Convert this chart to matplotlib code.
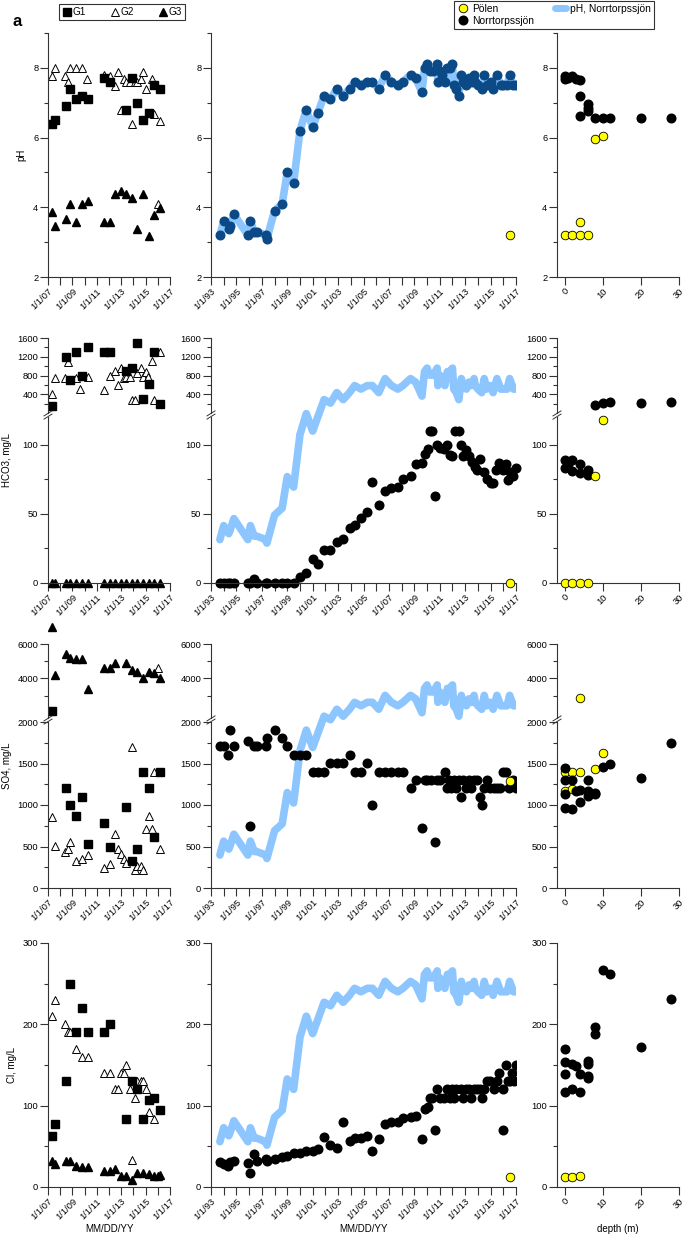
import matplotlib
matplotlib.use("Agg")
import matplotlib.pyplot as plt
from matplotlib.lines import Line2D
from matplotlib.ticker import FixedLocator

plt.rcParams['font.family'] = ['Liberation Sans', 'DejaVu Sans']

# ---------------- data ----------------
# Norrtorpssjön time series (pH)
nt_year = [1993.7, 1994.0, 1994.4, 1994.5, 1994.8, 1995.9, 1996.1, 1996.4, 1996.6, 1997.3,
           1997.4, 1998.0, 1998.6, 1999.0, 1999.5, 2000.0, 2000.5, 2001.0, 2001.4, 2001.9,
           2002.4, 2002.9, 2003.4, 2003.9, 2004.3, 2004.8, 2005.3, 2005.7, 2006.2, 2006.7,
           2007.2, 2007.7, 2008.1, 2008.7, 2009.1, 2009.6, 2009.8, 2010.0, 2010.2, 2010.5,
           2010.8, 2010.85, 2011.0, 2011.2, 2011.4, 2011.6, 2011.8, 2012.0, 2012.1, 2012.3,
           2012.5, 2012.7, 2012.8, 2013.1, 2013.3, 2013.5, 2013.7, 2013.8, 2014.0, 2014.3,
           2014.5, 2014.7, 2015.0, 2015.2, 2015.5, 2015.8, 2016.0, 2016.3, 2016.5, 2016.8, 2017.0]
nt_ph = [3.2, 3.6, 3.37, 3.46, 3.8, 3.2, 3.6, 3.3, 3.3, 3.2,
         3.1, 3.9, 4.1, 5.0, 4.7, 6.2, 6.8, 6.3, 6.7, 7.2,
         7.1, 7.4, 7.2, 7.4, 7.6, 7.5, 7.6, 7.6, 7.4, 7.8,
         7.6, 7.5, 7.6, 7.8, 7.7, 7.3, 8.0, 8.1, 7.9, 7.9,
         8.1, 7.6, 7.9, 7.8, 7.6, 8.0, 8.0, 8.1, 7.5, 7.4,
         7.2, 7.8, 7.6, 7.5, 7.7, 7.6, 7.8, 7.6, 7.5, 7.4,
         7.8, 7.5, 7.6, 7.4, 7.8, 7.5, 7.5, 7.5, 7.8, 7.5, 7.5]

nt_hco3_year = [1993.7, 1994.0, 1994.3, 1994.5, 1994.8, 1995.9, 1996.1, 1996.4, 1996.6, 1997.3,
                1997.4, 1998.0, 1998.6, 1999.0, 1999.5, 2000.0, 2000.5, 2001.0, 2001.4, 2001.9,
                2002.4, 2002.9, 2003.4, 2003.9, 2004.3, 2004.8, 2005.3, 2005.7, 2006.2, 2006.7,
                2007.2, 2007.7, 2008.1, 2008.7, 2009.1, 2009.6, 2009.8, 2010.1, 2010.2, 2010.4,
                2010.6, 2010.8, 2011.0, 2011.3, 2011.6, 2011.8, 2012.0, 2012.2, 2012.5, 2012.7,
                2012.8, 2013.1, 2013.3, 2013.5, 2013.8, 2013.9, 2014.2, 2014.5, 2014.7, 2015.0,
                2015.2, 2015.4, 2015.7, 2016.0, 2016.2, 2016.4, 2016.5, 2016.8, 2017.0]
nt_hco3 = [0, 0, 0, 0, 0, 0, 0, 2.6, 0, 0,
           0, 0, 0, 0, 0, 4.6, 7.2, 17.5, 13.7, 24,
           24, 30, 32, 39.7, 41.6, 47, 51, 73, 56.7, 66.6,
           68.8, 69.7, 75.5, 77.2, 85.8, 86.8, 93.5, 97.1, 109.6, 109.6,
           62.7, 100, 97.8, 97, 100, 92.3, 92, 109.6, 109.6, 100,
           91.8, 96.4, 92, 87.5, 83.9, 82, 90, 80, 75.5, 72.6,
           72.6, 81.5, 87, 81.5, 85.8, 74.3, 80, 77.4, 83.2]

nt_so4_year = [1993.7, 1994.0, 1994.3, 1994.5, 1994.8, 1995.9, 1996.1, 1996.4, 1996.6, 1997.3,
               1997.4, 1998.0, 1998.6, 1999.0, 1999.5, 2000.0, 2000.5, 2001.0, 2001.4, 2001.9,
               2002.4, 2002.9, 2003.4, 2003.9, 2004.3, 2004.8, 2005.3, 2005.7, 2006.2, 2006.7,
               2007.2, 2007.7, 2008.1, 2008.7, 2009.1, 2009.6, 2009.8, 2010.0, 2010.3, 2010.6,
               2010.8, 2011.0, 2011.4, 2011.6, 2011.7, 2011.9, 2012.1, 2012.3, 2012.5, 2012.7,
               2012.8, 2013.1, 2013.3, 2013.45, 2013.66, 2013.92, 2014.13, 2014.31, 2014.5, 2014.71,
               2014.97, 2015.23, 2015.49, 2015.76, 2015.97, 2016.23, 2016.41, 2016.75, 2017.0]
nt_so4 = [1705, 1705, 1604, 1906, 1705, 1769, 742, 1705, 1705, 1705,
          1805, 1906, 1805, 1705, 1604, 1604, 1604, 1402, 1402, 1402,
          1503, 1503, 1503, 1604, 1402, 1402, 1503, 999, 1402, 1402,
          1402, 1402, 1402, 1201, 1302, 725, 1302, 1302, 1302, 560,
          1302, 1302, 1402, 1201, 1302, 1201, 1302, 1201, 1302, 1100,
          1302, 1201, 1302, 1201, 1302, 1302, 1100, 999, 1201, 1302,
          1201, 1201, 1201, 1201, 1402, 1402, 1201, 1302, 1201]

nt_cl_year = [1993.7, 1994.0, 1994.3, 1994.5, 1994.8, 1995.9, 1996.1, 1996.4, 1996.6, 1997.3,
              1997.4, 1998.0, 1998.6, 1999.0, 1999.5, 2000.0, 2000.5, 2001.0, 2001.4, 2001.9,
              2002.4, 2002.9, 2003.4, 2003.9, 2004.3, 2004.8, 2005.3, 2005.7, 2006.2, 2006.7,
              2007.2, 2007.7, 2008.1, 2008.7, 2009.1, 2009.6, 2009.8, 2010.1, 2010.2, 2010.4,
              2010.6, 2010.8, 2011.0, 2011.3, 2011.6, 2011.8, 2012.0, 2012.1, 2012.3, 2012.7,
              2012.8, 2013.1, 2013.3, 2013.45, 2013.66, 2013.92, 2014.13, 2014.31, 2014.5, 2014.71,
              2014.97, 2015.23, 2015.49, 2015.7, 2015.97, 2015.97, 2016.18, 2016.36, 2016.54, 2016.67,
              2016.88, 2017.0]
nt_cl = [30.3, 27.8, 25.8, 30.3, 32.3, 29, 16.8, 40.5, 32.3, 34.8,
         32.3, 34, 37.2, 38, 41.3, 41.3, 43.8, 43.8, 47, 61.8,
         51.6, 47.5, 80.2, 56.5, 59.8, 59.8, 63, 43.8, 59, 77,
         80.2, 80.2, 84.3, 85.5, 87.6, 59, 95.8, 98.6, 110, 110,
         70, 120, 110, 110, 120, 110, 120, 110, 120, 120,
         110, 120, 120, 110, 120, 120, 120, 110, 120, 130,
         130, 120, 130, 140, 120, 70, 150, 130, 130, 140,
         130, 150]

# Pölen time-series sample
pol_year = [2016.55]
pol_ph = [3.2]
pol_hco3 = [0]
pol_so4 = [1286]
pol_cl = [12]

# Groundwater wells G1, G2, G3
g1_ph_year = [2007.33, 2007.6, 2008.45, 2008.8, 2009.3, 2009.8, 2010.3, 2011.6, 2012.1, 2013.4,
              2013.9, 2014.3, 2014.8, 2015.3, 2015.7, 2016.2]
g1_ph = [6.4, 6.5, 6.9, 7.4, 7.1, 7.2, 7.1, 7.7, 7.6, 6.8, 7.7, 7.0, 6.5, 6.7, 7.5, 7.4]
g2_ph_year = [2007.33, 2007.6, 2008.4, 2008.6, 2008.8, 2009.3, 2009.8, 2010.2, 2011.6, 2012.1,
              2012.5, 2012.75, 2013.0, 2013.2, 2013.4, 2013.7, 2013.9, 2014.1, 2014.3, 2014.6,
              2014.8, 2015.0, 2015.5, 2015.7, 2016.0, 2016.2]
g2_ph = [7.77, 8.0, 7.77, 7.6, 8.0, 8.0, 8.0, 7.68, 7.8, 7.77,
         7.48, 7.89, 6.78, 7.68, 7.58, 7.58, 6.4, 7.58, 7.58, 7.68,
         7.89, 7.4, 7.68, 6.68, 4.08, 6.48]
g3_ph_year = [2007.33, 2007.6, 2008.45, 2008.8, 2009.3, 2009.8, 2010.3, 2011.6, 2012.1, 2012.5,
              2013.0, 2013.4, 2013.9, 2014.3, 2014.8, 2015.3, 2015.7, 2016.2]
g3_ph = [3.87, 3.46, 3.66, 4.08, 3.57, 4.08, 4.17, 3.57, 3.57, 4.37,
         4.48, 4.37, 4.28, 3.37, 4.37, 3.17, 3.77, 3.97]

g1_hco3_year = [2007.33, 2008.45, 2008.8, 2009.3, 2009.8, 2010.3, 2011.6, 2012.1, 2013.4, 2013.9,
                2014.3, 2014.8, 2015.3, 2015.7, 2016.2]
g1_hco3 = [140, 1200, 700, 1300, 790, 1400, 1300, 1300, 900, 950, 1500, 290, 620, 1300, 200]
g2_hco3_year = [2007.33, 2007.6, 2008.4, 2008.6, 2009.3, 2009.6, 2009.8, 2010.3, 2011.6, 2012.1,
                2012.5, 2012.75, 2013.0, 2013.2, 2013.4, 2013.7, 2013.9, 2014.1, 2014.3, 2014.6,
                2014.8, 2015.0, 2015.2, 2015.5, 2015.7, 2016.2]
g2_hco3 = [410, 750, 750, 1080, 750, 520, 790, 770, 500, 790,
           900, 600, 970, 740, 760, 760, 270, 270, 860, 970,
           760, 880, 760, 1100, 270, 1300]
g3_hco3_year = [2007.33, 2007.6, 2008.45, 2008.8, 2009.3, 2009.8, 2010.3, 2011.6, 2012.1, 2012.5,
                2013.0, 2013.4, 2013.9, 2014.3, 2014.8, 2015.3, 2015.7, 2016.2]
g3_hco3 = [0, 0, 0, 0, 0, 0, 0, 0, 0, 0, 0, 0, 0, 0, 0, 0, 0, 0]

g1_so4_year = [2007.33, 2008.45, 2008.8, 2009.3, 2009.8, 2010.3, 2011.6, 2012.1, 2013.4, 2013.9,
               2014.3, 2014.8, 2015.3, 2015.7, 2016.2]
g1_so4 = [2100, 1200, 1000, 865, 1100, 525, 785, 490, 975, 320, 475, 1400, 1200, 610, 1400]
g2_so4_year = [2007.33, 2007.6, 2008.4, 2008.6, 2008.8, 2009.3, 2009.8, 2010.3, 2011.6, 2012.1,
               2012.5, 2012.75, 2013.0, 2013.2, 2013.4, 2013.9, 2014.1, 2014.3, 2014.6, 2014.8,
               2015.0, 2015.3, 2015.5, 2015.7, 2016.0, 2016.2]
g2_so4 = [860, 510, 430, 470, 560, 320, 350, 400, 245, 295,
          650, 465, 410, 350, 300, 1700, 220, 260, 260, 220,
          705, 865, 705, 1400, 4590, 465]
g3_so4_year = [2007.33, 2007.6, 2008.45, 2008.8, 2009.3, 2009.8, 2010.3, 2011.6, 2012.1, 2012.5,
               2013.4, 2013.9, 2014.3, 2014.8, 2015.3, 2015.7, 2016.2]
g3_so4 = [7000, 4200, 5400, 5200, 5100, 5100, 3400, 4600, 4600, 4900,
          4900, 4500, 4400, 4000, 4400, 4300, 4000]

g1_cl_year = g1_ph_year
g1_cl = [63, 77, 130, 250, 190, 220, 190, 190, 200, 83, 130, 121, 84, 107, 110, 95]
g2_cl_year = [2007.33, 2007.6, 2008.4, 2008.6, 2008.8, 2009.3, 2009.8, 2010.3, 2011.6, 2012.1,
              2012.5, 2012.75, 2013.0, 2013.2, 2013.4, 2013.7, 2013.9, 2014.1, 2014.3, 2014.6,
              2014.8, 2015.0, 2015.3, 2015.7]
g2_cl = [210, 230, 200, 190, 190, 170, 160, 160, 140, 140,
         120, 120, 140, 140, 150, 120, 33, 110, 130, 130,
         130, 120, 92, 83]
g3_cl_year = [2007.33, 2007.6, 2008.45, 2008.8, 2009.3, 2009.8, 2010.3, 2011.6, 2012.1, 2012.5,
              2013.0, 2013.4, 2013.9, 2014.3, 2014.8, 2015.3, 2015.7, 2016.0, 2016.2]
g3_cl = [31.5, 28, 31.5, 31.5, 26, 24, 24, 20, 20, 22, 13, 13, 9, 17, 17, 16, 14, 14, 15]

# Depth profiles
nd_ph_depth = [0, 0, 1, 2, 3, 4, 4, 4, 6, 6, 6, 8, 10, 12, 20, 28]
nd_ph = [7.69, 7.77, 7.72, 7.77, 7.69, 7.64, 7.2, 6.62, 6.97, 6.85, 6.75, 6.57, 6.57, 6.57, 6.55, 6.55]
pd_ph_depth = [0, 2, 4, 4, 6, 8, 10]
pd_ph = [3.2, 3.2, 3.57, 3.2, 3.2, 5.95, 6.05]

nd_hco3_depth = [0, 0, 1, 2, 2, 4, 4, 6, 6, 8, 10, 12, 20, 28]
nd_hco3 = [88.7, 83.4, 85.8, 88.7, 80.8, 85.8, 79.6, 82, 77.9, 163, 213, 228, 220, 235]
pd_hco3_depth = [0, 2, 4, 6, 8, 10]
pd_hco3 = [0, 0, 0, 0, 77.2, 118]

nd_so4_depth = [0, 0, 0, 0, 2, 2, 3, 4, 4, 6, 6, 6, 8, 8, 10, 12, 20, 28]
nd_so4 = [1443, 1302, 1128, 959, 1302, 955, 1169, 1177, 1040, 1302, 1169, 1108, 1149, 1128, 1463, 1495, 1322, 1753]
pd_so4_depth = [0, 2, 4, 10, 8, 0, 2, 4]
pd_so4 = [1402, 1402, 1402, 1632, 1431, 1169, 1189, 2883]

nd_cl_depth = [0, 0, 0, 0, 2, 2, 3, 4, 4, 6, 6, 6, 6, 8, 8, 10, 12, 20, 28]
nd_cl = [169.5, 153.5, 139, 117, 121, 151, 148.6, 139, 117, 154.7, 151, 136.7, 134, 197, 188, 266.5, 262.4, 172.3, 231.3]
pd_cl_depth = [0, 2, 4]
pd_cl = [12, 12, 13.5]

depth_ticks = [0, 10, 20, 30]

# ---------------- figure ----------------
W, H = 685, 1237
fig = plt.figure(figsize=(W / 100, H / 100), dpi=100)

C1 = (48, 170)
C2 = (211, 516)
C3 = (557, 679)
LIGHT = '#8DC6FF'
DARK = '#0B4A86'
YEL = '#FFFF00'
SPINE = '#333333'
FS = 6.7
LFS = 7.0

SQ = dict(marker='s', ms=5.8, color='k', ls='none')
TRO = dict(marker='^', ms=6.4, mfc='white', mec='k', mew=0.7, ls='none')
TRF = dict(marker='^', ms=6.4, color='k', ls='none')
DOT = dict(marker='o', ms=6.2, color='k', ls='none')
YDOT = dict(marker='o', ms=6.2, mfc=YEL, mec='k', mew=0.6, ls='none')


def add_ax(xr, y0, y1, z=1):
    ax = fig.add_axes([xr[0] / W, 1 - y1 / H, (xr[1] - xr[0]) / W, (y1 - y0) / H], zorder=z)
    ax.patch.set_visible(False)
    return ax


def style(ax, bottom=True):
    ax.spines['top'].set_visible(False)
    ax.spines['right'].set_visible(False)
    for s in ['left', 'bottom']:
        ax.spines[s].set_color(SPINE)
        ax.spines[s].set_linewidth(0.8)
    ax.tick_params(axis='both', which='both', direction='out', labelsize=FS,
                   color=SPINE, width=0.8, pad=1.5)
    ax.tick_params(axis='y', which='major', length=5.5)
    ax.tick_params(axis='y', which='minor', length=3)
    ax.tick_params(axis='x', which='both', length=5.5)
    if not bottom:
        ax.spines['bottom'].set_visible(False)
        ax.tick_params(axis='x', which='both', bottom=False, labelbottom=False)


def set_years(ax, y0, y1, label=True):
    ax.set_xlim(y0, y1)
    major = list(range(y0, y1 + 1, 2))
    ax.xaxis.set_major_locator(FixedLocator(major))
    ax.xaxis.set_minor_locator(FixedLocator(list(range(y0 + 1, y1, 2))))
    if label:
        ax.set_xticklabels([f"1/1/{y % 100:02d}" for y in major], rotation=45,
                           ha='right', va='top', rotation_mode='anchor')


def set_depth(ax, label=True):
    ax.set_xlim(-2, 30)
    ax.xaxis.set_major_locator(FixedLocator(depth_ticks))
    if label:
        ax.set_xticklabels([str(t) for t in depth_ticks], rotation=45,
                           ha='right', va='top', rotation_mode='anchor')


def set_y(ax, lim, major, minor):
    ax.set_ylim(*lim)
    ax.yaxis.set_major_locator(FixedLocator(major))
    ax.yaxis.set_minor_locator(FixedLocator(minor))


def split(xs, ys, thr, upper):
    pts = [(x, y) for x, y in zip(xs, ys) if (y > thr) == upper]
    return [p[0] for p in pts], [p[1] for p in pts]


def break_mark(xpx, ypx):
    for dy in (-1.6, 1.6):
        fig.add_artist(Line2D([(xpx - 4) / W, (xpx + 4) / W],
                              [1 - (ypx + dy + 2.5) / H, 1 - (ypx + dy - 2.5) / H],
                              color=SPINE, lw=0.7, transform=fig.transFigure))


def overlay_ph(y0, y1, lim):
    ov = add_ax(C2, y0, y1, z=0)
    ov.axis('off')
    ov.plot(nt_year, nt_ph, color=LIGHT, lw=5.5, solid_joinstyle='round',
            solid_capstyle='round')
    ov.set_xlim(1993, 2017)
    ov.set_ylim(*lim)


# ---------- Row 1: pH ----------
R1 = (33, 277)
ph_major, ph_minor = [2, 4, 6, 8], [3, 5, 7, 9]

ax = add_ax(C1, *R1)
style(ax)
ax.plot(g2_ph_year, g2_ph, **TRO)
ax.plot(g1_ph_year, g1_ph, **SQ)
ax.plot(g3_ph_year, g3_ph, **TRF)
set_years(ax, 2007, 2017)
set_y(ax, (2, 9), ph_major, ph_minor)

ax = add_ax(C2, *R1)
style(ax)
ax.plot(nt_year, nt_ph, color=LIGHT, lw=5.5, solid_joinstyle='round', solid_capstyle='round', zorder=1)
ax.plot(nt_year, nt_ph, marker='o', ms=6.2, color=DARK, ls='none', zorder=2)
ax.plot(pol_year, pol_ph, **YDOT, zorder=3)
set_years(ax, 1993, 2017)
set_y(ax, (2, 9), ph_major, ph_minor)

ax = add_ax(C3, *R1)
style(ax)
ax.plot(pd_ph_depth, pd_ph, **YDOT)
ax.plot(nd_ph_depth, nd_ph, **DOT)
set_depth(ax)
set_y(ax, (2, 9), ph_major, ph_minor)

# ---------- Row 2: HCO3 (broken) ----------
R2U, R2L = (338, 413), (417, 583)
HTHR = 120
overlay_ph(338, 583, (1.96, 8.96))


def broken_pair(xr, ru, rl, ulim, umaj, umin, llim, lmaj, lmin):
    au = add_ax(xr, *ru)
    style(au, bottom=False)
    set_y(au, ulim, umaj, umin)
    al = add_ax(xr, *rl)
    style(al)
    set_y(al, llim, lmaj, lmin)
    break_mark(xr[0], (ru[1] + rl[0]) / 2)
    return au, al


def plot_split(au, al, xs, ys, thr, style_kw, clip_upper=True, z=2):
    xu, yu = split(xs, ys, thr, True)
    xl, yl = split(xs, ys, thr, False)
    au.plot(xu, yu, **style_kw, clip_on=clip_upper, zorder=z)
    al.plot(xl, yl, **style_kw, zorder=z)


hu = ((0, 1600), [400, 800, 1200, 1600], [200, 600, 1000, 1400])
hl = ((0, 120), [0, 50, 100], [25, 75])

au, al = broken_pair(C1, R2U, R2L, *hu, *hl)
plot_split(au, al, g2_hco3_year, g2_hco3, HTHR, TRO)
plot_split(au, al, g1_hco3_year, g1_hco3, HTHR, SQ)
al.plot(g3_hco3_year, g3_hco3, **TRF, clip_on=False)
for a in (au, al):
    set_years(a, 2007, 2017, label=(a is al))

au, al = broken_pair(C2, R2U, R2L, *hu, *hl)
plot_split(au, al, nt_hco3_year, nt_hco3, HTHR, DOT)
al.plot(pol_year, pol_hco3, **YDOT, clip_on=False, zorder=3)
for a in (au, al):
    set_years(a, 1993, 2017, label=(a is al))
for d in (al.lines):
    d.set_clip_on(False)

au, al = broken_pair(C3, R2U, R2L, *hu, *hl)
plot_split(au, al, nd_hco3_depth, nd_hco3, HTHR, DOT)
plot_split(au, al, pd_hco3_depth, pd_hco3, HTHR, YDOT, z=3)
for d in (al.lines):
    d.set_clip_on(False)
for a in (au, al):
    set_depth(a, label=(a is al))

# ---------- Row 3: SO4 (broken) ----------
R3U, R3L = (644, 718), (722, 888)
STHR = 2000
overlay_ph(644, 888, (2.25, 9.28))
su = ((1700, 6000), [4000, 6000], [3000, 5000])
sl = ((0, 2000), [0, 500, 1000, 1500, 2000], [250, 750, 1250, 1750])

au, al = broken_pair(C1, R3U, R3L, *su, *sl)
plot_split(au, al, g2_so4_year, g2_so4, STHR, TRO)
plot_split(au, al, g1_so4_year, g1_so4, STHR, SQ)
plot_split(au, al, g3_so4_year, g3_so4, STHR, TRF, clip_upper=False)
for a in (au, al):
    set_years(a, 2007, 2017, label=(a is al))

au, al = broken_pair(C2, R3U, R3L, *su, *sl)
plot_split(au, al, nt_so4_year, nt_so4, STHR, DOT)
al.plot(pol_year, pol_so4, **YDOT, zorder=3)
for a in (au, al):
    set_years(a, 1993, 2017, label=(a is al))

au, al = broken_pair(C3, R3U, R3L, *su, *sl)
plot_split(au, al, pd_so4_depth, pd_so4, STHR, YDOT)
plot_split(au, al, nd_so4_depth, nd_so4, STHR, DOT, z=3)
for a in (au, al):
    set_depth(a, label=(a is al))

# ---------- Row 4: Cl ----------
R4 = (943, 1187)
overlay_ph(943, 1187, (1.9, 8.9))
cl_major, cl_minor = [0, 100, 200, 300], [50, 150, 250]

ax = add_ax(C1, *R4)
style(ax)
ax.plot(g2_cl_year, g2_cl, **TRO)
ax.plot(g1_cl_year, g1_cl, **SQ)
ax.plot(g3_cl_year, g3_cl, **TRF)
set_years(ax, 2007, 2017)
set_y(ax, (0, 300), cl_major, cl_minor)

ax = add_ax(C2, *R4)
style(ax)
ax.plot(nt_cl_year, nt_cl, **DOT)
ax.plot(pol_year, pol_cl, **YDOT, zorder=3)
set_years(ax, 1993, 2017)
set_y(ax, (0, 300), cl_major, cl_minor)

ax = add_ax(C3, *R4)
style(ax)
ax.plot(pd_cl_depth, pd_cl, **YDOT)
ax.plot(nd_cl_depth, nd_cl, **DOT)
set_depth(ax)
set_y(ax, (0, 300), cl_major, cl_minor)

# ---------- labels ----------
def ftext(xpx, ypx, s, **kw):
    fig.text(xpx / W, 1 - ypx / H, s, **kw)


ftext(21, 155, 'pH', rotation=90, ha='center', va='center', fontsize=LFS)
ftext(7, 460, 'HCO3, mg/L', rotation=90, ha='center', va='center', fontsize=LFS)
ftext(7, 766, 'SO4, mg/L', rotation=90, ha='center', va='center', fontsize=LFS)
ftext(12, 1065, 'Cl, mg/L', rotation=90, ha='center', va='center', fontsize=LFS)
ftext(109, 1229, 'MM/DD/YY', ha='center', va='center', fontsize=LFS)
ftext(363, 1229, 'MM/DD/YY', ha='center', va='center', fontsize=LFS)
ftext(618, 1229, 'depth (m)', ha='center', va='center', fontsize=LFS)
ftext(12, 21, 'a', fontsize=12, fontweight='bold', ha='left', va='center')

# ---------- legends ----------
h1 = [Line2D([], [], **SQ), Line2D([], [], **TRO), Line2D([], [], **TRF)]
fig.legend(h1, ['G1', 'G2', 'G3'], ncol=3, loc='upper left',
           bbox_to_anchor=(59 / W, 1 - 4 / H), frameon=True, fancybox=False,
           edgecolor='k', fontsize=7.2, handletextpad=0.05, columnspacing=2.4,
           borderpad=0.3, handlelength=1.0, borderaxespad=0).get_frame().set_linewidth(0.8)

h2 = [Line2D([], [], **YDOT), Line2D([], [], **DOT),
      Line2D([], [], color=LIGHT, lw=5, solid_capstyle='round')]
fig.legend(h2, ['Pölen', 'Norrtorpssjön', 'pH, Norrtorpssjön'], ncol=2, loc='upper left',
           bbox_to_anchor=(454 / W, 1 - 0.5 / H), frameon=True, fancybox=False,
           edgecolor='k', fontsize=7.4, handletextpad=0.4, columnspacing=2.0,
           borderpad=0.3, handlelength=1.1, labelspacing=0.2,
           borderaxespad=0).get_frame().set_linewidth(0.8)

fig.savefig('out.png', dpi=100)
